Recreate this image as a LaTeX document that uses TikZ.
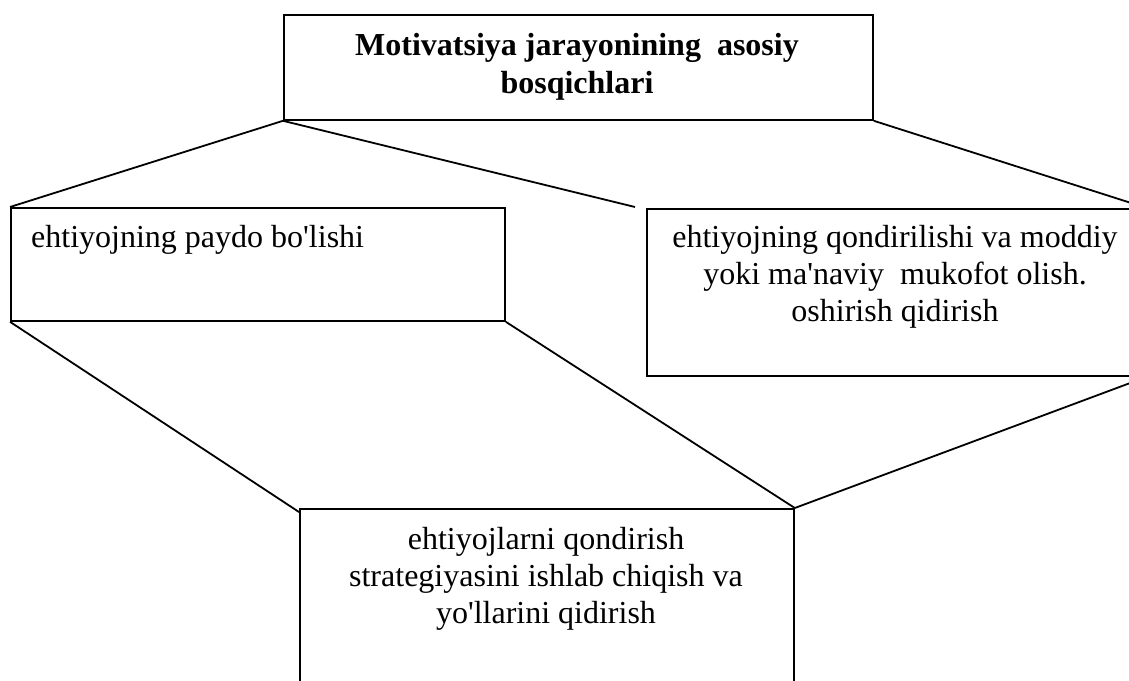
\documentclass[tikz,border=0pt]{standalone}
\usepackage{fontspec}
\setmainfont{Liberation Serif}[Ligatures=TeXOff]
\begin{document}
\begin{tikzpicture}[x=1pt,y=-1pt,
  box/.style={draw,line width=1.8pt,inner sep=0pt,anchor=north west},
  conn/.style={line width=1.8pt},
  txt/.style={font=\fontsize{32}{37}\selectfont,inner sep=0pt,anchor=base,align=center},
  ttl/.style={txt,font=\bfseries\fontsize{32}{38}\selectfont}]
\useasboundingbox (0,0) rectangle (1129,680);
\clip (0,0) rectangle (1129,680);
\node[box,minimum width=589pt,minimum height=105pt] (top) at (283,14) {};
\node[box,minimum width=494pt,minimum height=113pt] (left) at (10,207) {};
\node[box,minimum width=499pt,minimum height=167pt] (right) at (646,208) {};
\node[box,minimum width=494pt,minimum height=200pt] (bot) at (299,508) {};
\coordinate (free) at (635,207);
\coordinate (botw) at (299,512);
\draw[conn] (top.south west) -- (left.north west);
\draw[conn] (top.south west) -- (free);
\draw[conn] (top.south east) -- (right.north east);
\draw[conn] (left.south west) -- (botw);
\draw[conn] (left.south east) -- (bot.north east);
\draw[conn] (right.south east) -- (bot.north east);
\node[ttl] (t1) at (577,93) {Motivatsiya jarayonining\ \ asosiy\\bosqichlari};
\node[txt,anchor=base west] (t2) at (31,247) {ehtiyojning paydo bo'lishi};
\node[txt] (t3) at (895,321) {ehtiyojning qondirilishi va moddiy\\yoki ma'naviy\ \ mukofot olish.\\oshirish qidirish};
\node[txt] (t4) at (546,623) {ehtiyojlarni qondirish\\strategiyasini ishlab chiqish va\\yo'llarini qidirish};
\end{tikzpicture}
\end{document}
